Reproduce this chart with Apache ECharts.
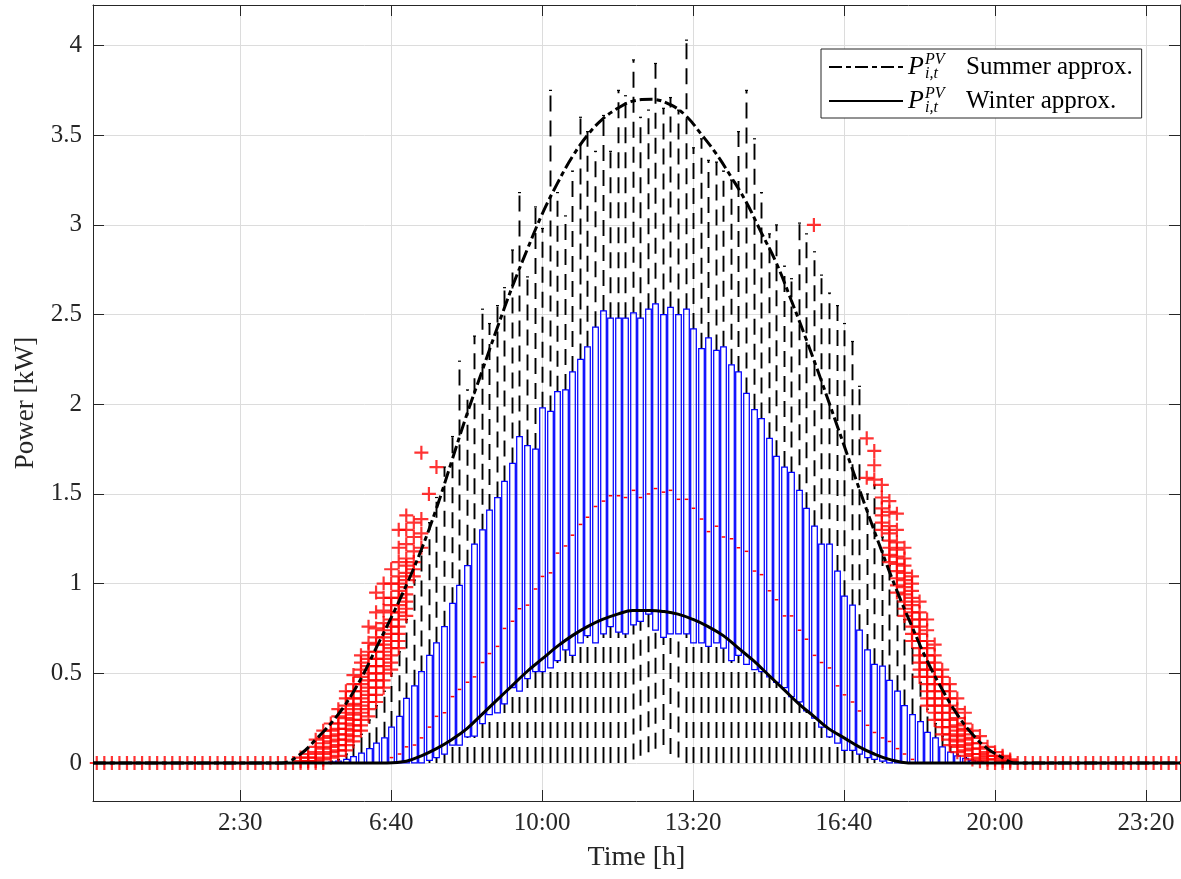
<!DOCTYPE html>
<html><head><meta charset="utf-8">
<script src="https://cdn.jsdelivr.net/npm/echarts@6/dist/echarts.min.js"></script>
<style>html,body{margin:0;padding:0;background:#fff}#c{width:1181px;height:879px}</style>
</head><body><div id="c"></div><script>
// ---- tick labels ----
const xTickPositions = [20, 40, 60, 80, 100, 120, 140];
const xTickLabels = ['2:30', '6:40', '10:00', '13:20', '16:40', '20:00', '23:20'];
const yTickValues = [0, 0.5, 1, 1.5, 2, 2.5, 3, 3.5, 4];

// ---- box statistics, one value per 10-minute slot (1..144) ----
const lowerWhisker = [
 0,0,0,0,0,0,0,0,0,0, 0,0,0,0,0,0,0,0,0,0, 0,0,0,0,0,0,0,0,0,0,
 0,0,0,0,0,0,0,0,0,0, 0,0,0,0,0,0,0,0,0,0, 0,0,0,0,0,0,0,0,0,0,
 0,0,0,0,0,0,0,0,0,0, 0,0.02,0.04,0.06,0.08,0.10,0.05,0.03,0,0,
 0,0,0,0,0,0,0,0,0,0, 0,0,0,0,0,0,0,0,0,0, 0,0,0,0,0,0,0,0,0,0,
 0,0,0,0,0,0,0,0,0,0, 0,0,0,0,0,0,0,0,0,0, 0,0,0,0];
const q1 = [
 0,0,0,0,0,0,0,0,0,0, 0,0,0,0,0,0,0,0,0,0, 0,0,0,0,0,0,0,0,0,0, 0,0,0,0,0,0,0,0,0,0,
 0,0,0,0,0.015,0.03,0.05,0.10,0.10,0.145,
 0.15,0.22,0.27,0.28,0.33,0.42,0.40,0.47,0.51,0.51,
 0.53,0.57,0.63,0.60,0.67,0.71,0.67,0.72,0.76,0.73,
 0.72,0.77,0.79,0.83,0.74,0.70,0.72,0.72,0.72,0.67,
 0.67,0.65,0.67,0.64,0.57,0.60,0.55,0.52,0.51,0.48,
 0.45,0.42,0.37,0.34,0.29,0.25,0.20,0.145,0.11,0.07,
 0.07,0.05,0.03,0.02,0.01,0,0,0,0,0,
 0,0,0,0,0,0,0,0,0,0, 0,0,0,0,0,0,0,0,0,0, 0,0,0,0,0,0,0,0,0,0, 0,0,0,0];
const median = [
 0,0,0,0,0,0,0,0,0,0, 0,0,0,0,0,0,0,0,0,0, 0,0,0,0,0,0,0,0,0,0,
 0,0,0,0,0,0,0,0,0,0.03,
 0.05,0.09,0.10,0.14,0.20,0.26,0.28,0.37,0.41,0.45,
 0.48,0.56,0.61,0.65,0.75,0.79,0.86,0.88,0.97,1.04,
 1.06,1.17,1.21,1.27,1.33,1.37,1.43,1.46,1.49,1.49,
 1.48,1.52,1.48,1.50,1.53,1.51,1.52,1.47,1.47,1.42,
 1.36,1.29,1.32,1.26,1.25,1.20,1.18,1.07,1.05,0.96,
 0.91,0.82,0.82,0.74,0.69,0.60,0.56,0.53,0.43,0.38,
 0.34,0.29,0.21,0.17,0.14,0.12,0.08,0.05,0.02,0,
 0,0,0,0,0,0,0,0,0,0, 0,0,0,0,0,0,0,0,0,0, 0,0,0,0,0,0,0,0,0,0, 0,0,0,0];
const q3 = [
 0,0,0,0,0,0,0,0,0,0, 0,0,0,0,0,0,0,0,0,0, 0,0,0,0,0,0,0,0,0,0,
 0,0.005,0.01,0.02,0.035,0.055,0.08,0.11,0.14,0.20,
 0.26,0.36,0.43,0.51,0.60,0.67,0.76,0.89,0.99,1.10,
 1.22,1.30,1.41,1.48,1.57,1.67,1.82,1.77,1.75,1.98,
 1.96,2.07,2.08,2.18,2.25,2.32,2.43,2.52,2.48,2.48,
 2.48,2.51,2.48,2.53,2.56,2.50,2.54,2.50,2.53,2.42,
 2.31,2.37,2.30,2.32,2.22,2.18,2.06,1.97,1.92,1.81,
 1.71,1.65,1.62,1.52,1.42,1.32,1.22,1.22,1.07,0.93,
 0.88,0.74,0.63,0.55,0.54,0.46,0.40,0.32,0.27,0.23,
 0.17,0.14,0.09,0.06,0.04,0.025,0.015,0.008,0,0,
 0,0,0,0,0,0,0,0,0,0, 0,0,0,0,0,0,0,0,0,0, 0,0,0,0];
const upperWhisker = [
 0,0,0,0,0,0,0,0,0,0, 0,0,0,0,0,0,0,0,0,0, 0,0,0,0,0,0,0,0,0,0,
 0,0.01,0.02,0.05,0.10,0.16,0.24,0.32,0.40,0.50,
 0.62,0.80,1.02,1.18,1.34,1.48,1.65,1.82,2.24,2.08,
 2.38,2.53,2.45,2.55,2.65,2.86,3.18,2.71,3.10,2.98,
 3.75,3.18,3.05,3.30,3.60,3.52,3.41,3.61,3.41,3.75,
 3.72,3.92,3.60,3.64,3.90,3.65,3.71,3.64,4.03,3.43,
 3.48,3.36,3.35,3.30,3.25,3.52,3.75,3.48,3.18,2.95,
 3.00,2.77,2.70,3.01,2.95,2.85,2.72,2.62,2.55,2.45,
 2.35,2.10,1.50,1.55,1.26,1.10,0.93,0.80,0.64,0.45,
 0.30,0.22,0.15,0.09,0.05,0.03,0.02,0.01,0,0,
 0,0,0,0,0,0,0,0,0,0, 0,0,0,0,0,0,0,0,0,0, 0,0,0,0];

// ---- outliers [slot, kW] ----
const outliers = [
 [1,0],[2,0],[3,0],[4,0],[5,0],[6,0],[7,0],[8,0],[9,0],[10,0],[11,0],[12,0],[13,0],[14,0],[15,0],
 [16,0],[17,0],[18,0],[19,0],[20,0],[21,0],[22,0],[23,0],[24,0],[25,0],[26,0],[27,0],[28,0],[29,0],[30,0],[31,0],
 [28,0.01],[28,0.03],[29,0.01],[29,0.03],[29,0.05],[30,0.01],[30,0.03],[30,0.06],[30,0.09],[30,0.13],
 [31,0.02],[31,0.05],[31,0.08],[31,0.11],[31,0.14],[31,0.18],
 [32,0.03],[32,0.06],[32,0.09],[32,0.12],[32,0.15],[32,0.18],[32,0.22],
 [33,0.04],[33,0.07],[33,0.10],[33,0.13],[33,0.16],[33,0.19],[33,0.22],[33,0.26],[33,0.30],
 [34,0.07],[34,0.10],[34,0.13],[34,0.16],[34,0.19],[34,0.22],[34,0.25],[34,0.28],[34,0.32],[34,0.36],[34,0.40],
 [35,0.12],[35,0.15],[35,0.18],[35,0.21],[35,0.24],[35,0.27],[35,0.30],[35,0.33],[35,0.36],[35,0.40],[35,0.44],[35,0.49],
 [36,0.18],[36,0.21],[36,0.24],[36,0.28],[36,0.32],[36,0.36],[36,0.40],[36,0.44],[36,0.48],[36,0.52],[36,0.56],[36,0.60],
 [37,0.26],[37,0.30],[37,0.34],[37,0.38],[37,0.42],[37,0.46],[37,0.50],[37,0.54],[37,0.58],[37,0.62],[37,0.67],[37,0.76],
 [38,0.34],[38,0.38],[38,0.42],[38,0.46],[38,0.50],[38,0.54],[38,0.58],[38,0.62],[38,0.66],[38,0.70],[38,0.75],[38,0.84],[38,0.95],
 [39,0.42],[39,0.46],[39,0.50],[39,0.54],[39,0.58],[39,0.62],[39,0.66],[39,0.70],[39,0.74],[39,0.78],[39,0.85],[39,0.92],[39,1.00],
 [40,0.52],[40,0.56],[40,0.60],[40,0.64],[40,0.68],[40,0.72],[40,0.76],[40,0.80],[40,0.84],[40,0.88],[40,0.92],[40,1.00],[40,1.08],
 [41,0.64],[41,0.68],[41,0.72],[41,0.76],[41,0.80],[41,0.84],[41,0.88],[41,0.92],[41,0.96],[41,1.00],[41,1.04],[41,1.12],[41,1.20],[41,1.30],
 [42,0.82],[42,0.86],[42,0.90],[42,0.94],[42,0.98],[42,1.02],[42,1.06],[42,1.10],[42,1.14],[42,1.22],[42,1.30],[42,1.38],
 [43,1.04],[43,1.08],[43,1.12],[43,1.18],[43,1.26],[43,1.34],
 [44,1.20],[44,1.28],[44,1.36],[44,1.73],[45,1.50],[46,1.65],
 [96,3.00],
 [103,1.59],[103,1.81],[104,1.58],[104,1.66],[104,1.74],
 [105,1.30],[105,1.34],[105,1.38],[105,1.42],[105,1.48],[105,1.55],
 [106,1.12],[106,1.16],[106,1.20],[106,1.24],[106,1.28],[106,1.32],[106,1.40],[106,1.46],
 [107,0.95],[107,0.99],[107,1.03],[107,1.07],[107,1.11],[107,1.15],[107,1.19],[107,1.23],[107,1.30],[107,1.39],
 [108,0.82],[108,0.86],[108,0.90],[108,0.94],[108,0.98],[108,1.02],[108,1.06],[108,1.10],[108,1.14],[108,1.20],
 [109,0.68],[109,0.72],[109,0.76],[109,0.80],[109,0.84],[109,0.88],[109,0.92],[109,0.96],[109,1.00],[109,1.04],
 [110,0.48],[110,0.52],[110,0.56],[110,0.60],[110,0.64],[110,0.68],[110,0.72],[110,0.76],[110,0.80],[110,0.84],[110,0.90],
 [111,0.32],[111,0.36],[111,0.40],[111,0.44],[111,0.48],[111,0.52],[111,0.56],[111,0.60],[111,0.64],[111,0.68],[111,0.74],[111,0.80],
 [112,0.24],[112,0.28],[112,0.32],[112,0.36],[112,0.40],[112,0.44],[112,0.48],[112,0.52],[112,0.56],[112,0.60],[112,0.66],
 [113,0.16],[113,0.20],[113,0.24],[113,0.28],[113,0.32],[113,0.36],[113,0.40],[113,0.44],[113,0.48],[113,0.52],
 [114,0.10],[114,0.13],[114,0.16],[114,0.20],[114,0.24],[114,0.28],[114,0.32],[114,0.36],[114,0.40],[114,0.44],
 [115,0.06],[115,0.09],[115,0.12],[115,0.15],[115,0.18],[115,0.21],[115,0.25],[115,0.30],[115,0.36],
 [116,0.04],[116,0.07],[116,0.10],[116,0.13],[116,0.16],[116,0.19],[116,0.22],[116,0.28],
 [117,0.02],[117,0.05],[117,0.08],[117,0.11],[117,0.14],[117,0.18],
 [118,0.01],[118,0.03],[118,0.05],[118,0.08],[118,0.11],[118,0.15],
 [119,0.02],[119,0.04],[119,0.06],[119,0.09],[120,0.02],[120,0.04],[120,0.06],
 [121,0.01],[121,0.03],[121,0.04],[122,0.01],[122,0.02],
 [119,0],[120,0],[121,0],[122,0],[123,0],[124,0],[125,0],[126,0],[127,0],[128,0],[129,0],[130,0],
 [131,0],[132,0],[133,0],[134,0],[135,0],[136,0],[137,0],[138,0],[139,0],[140,0],[141,0],[142,0],[143,0],[144,0]
];

// ---- approximation curves [slot, kW] ----
const summerCurve = [
 [0.5,0],[25.5,0],[28,0.05],[30,0.13],[32,0.22],[34,0.33],[36,0.47],[38,0.64],[40,0.81],[42,0.99],
 [44,1.19],[46,1.42],[48,1.68],[50,1.94],[52,2.18],[54,2.42],[56,2.65],[58,2.86],[60,3.06],[62,3.23],
 [64,3.38],[66,3.50],[68,3.59],[70,3.65],[72,3.69],[74.5,3.70],[77,3.67],[79,3.61],[81,3.51],[83,3.40],
 [85,3.27],[87,3.13],[89,2.96],[91,2.79],[93,2.58],[95,2.36],[97,2.13],[99,1.89],[101,1.65],[103,1.41],
 [105,1.18],[107,0.96],[109,0.76],[111,0.57],[113,0.41],[115,0.27],[117,0.16],[119,0.08],[121,0.03],
 [122.5,0],[144.5,0]];
const winterCurve = [
 [0.5,0],[39.5,0],[42,0.01],[44,0.04],[46,0.08],[48,0.13],[50,0.19],[52,0.27],[54,0.35],[56,0.43],
 [58,0.51],[60,0.58],[62,0.65],[64,0.71],[66,0.76],[68,0.80],[70,0.83],[72,0.85],[74.3,0.85],[76,0.845],
 [78,0.83],[80,0.80],[82,0.76],[84,0.71],[86,0.64],[88,0.57],[90,0.49],[92,0.41],[94,0.33],[96,0.26],
 [98,0.19],[100,0.14],[102,0.09],[104,0.05],[106,0.02],[108.5,0],[144.5,0]];

const FONT = "'Liberation Serif', 'DejaVu Serif', serif";
const AX = '#262626';
const boxData = q1.map((v, k) => [k + 1, lowerWhisker[k], q1[k], median[k], q3[k], upperWhisker[k]]);
const plusPath = 'path://M5.9,0H8.1V5.9H14V8.1H8.1V14H5.9V8.1H0V5.9H5.9Z';

const chart = echarts.init(document.getElementById('c'), null, {renderer: 'canvas'});
chart.setOption({
  animation: false,
  backgroundColor: '#fff',
  grid: {left: 93, right: 1, top: 5, bottom: 78, containLabel: false},
  legend: {
    orient: 'vertical', left: 821, top: 49,
    itemWidth: 74, itemHeight: 16, itemGap: 4,
    padding: [3, 9, 2, 7],
    borderColor: AX, borderWidth: 1, backgroundColor: '#fff',
    itemStyle: {opacity: 0},
    data: ['Summer approx.', 'Winter approx.'],
    formatter: n => '{p|P}{sup|PV}{sub|i,t}{t|' + n + '}',
    textStyle: {
      fontFamily: FONT, fontSize: 25, color: '#000',
      rich: {
        p: {fontFamily: FONT, fontStyle: 'italic', fontSize: 26, lineHeight: 30, width: 17},
        sup: {fontFamily: FONT, fontStyle: 'italic', fontSize: 16, lineHeight: 15, verticalAlign: 'top', width: 0},
        sub: {fontFamily: FONT, fontStyle: 'italic', fontSize: 16, lineHeight: 15, verticalAlign: 'bottom', width: 41},
        t: {fontFamily: FONT, fontSize: 25, lineHeight: 30}
      }
    }
  },
  xAxis: [{
    type: 'value', min: 0.5, max: 144.5, position: 'bottom',
    name: 'Time [h]', nameLocation: 'middle', nameGap: 43,
    nameTextStyle: {fontFamily: FONT, fontSize: 28, color: AX},
    axisLine: {show: true, onZero: false, lineStyle: {color: AX, width: 1}},
    axisTick: {show: true, inside: true, length: 11, customValues: xTickPositions, lineStyle: {color: AX, width: 1}},
    axisLabel: {show: true, margin: 10, customValues: xTickPositions, fontFamily: FONT, fontSize: 25, color: AX,
      formatter: v => xTickLabels[xTickPositions.indexOf(Math.round(v))]},
    splitLine: {show: true, lineStyle: {color: '#dcdcdc', width: 1}}
  }, {
    type: 'value', min: 0.5, max: 144.5, position: 'top',
    axisLine: {show: true, onZero: false, lineStyle: {color: AX, width: 1}},
    axisTick: {show: true, inside: true, length: 11, customValues: xTickPositions, lineStyle: {color: AX, width: 1}},
    axisLabel: {show: false}, splitLine: {show: false}
  }],
  yAxis: [{
    type: 'value', min: -0.212, max: 4.226, position: 'left',
    name: 'Power [kW]', nameLocation: 'middle', nameGap: 53,
    nameTextStyle: {fontFamily: FONT, fontSize: 27, color: AX},
    axisLine: {show: true, onZero: false, lineStyle: {color: AX, width: 1}},
    axisTick: {show: true, inside: true, length: 11, customValues: yTickValues, lineStyle: {color: AX, width: 1}},
    axisLabel: {show: true, margin: 11, customValues: yTickValues, fontFamily: FONT, fontSize: 25, color: AX,
      formatter: v => String(v)},
    splitLine: {show: true, lineStyle: {color: '#dcdcdc', width: 1}}
  }, {
    type: 'value', min: -0.212, max: 4.226, position: 'right',
    axisLine: {show: true, onZero: false, lineStyle: {color: AX, width: 1}},
    axisTick: {show: true, inside: true, length: 11, customValues: yTickValues, lineStyle: {color: AX, width: 1}},
    axisLabel: {show: false}, splitLine: {show: false}
  }],
  series: [{
    type: 'custom', name: 'boxes', z: 2, silent: true,
    data: boxData,
    encode: {x: 0, y: [1, 2, 3, 4, 5]},
    renderItem: function (params, api) {
      const i = api.value(0);
      const pLo = api.coord([i, api.value(1)]);
      const pQ1 = api.coord([i, api.value(2)]);
      const pMd = api.coord([i, api.value(3)]);
      const pQ3 = api.coord([i, api.value(4)]);
      const pUp = api.coord([i, api.value(5)]);
      const hw = api.size([1, 0])[0] * 0.37;
      const x = Math.round(pQ1[0]) + 0.5;
      const dash = {stroke: '#000', lineWidth: 1.9, lineDash: [16, 9]};
      return {type: 'group', children: [
        {type: 'line', shape: {x1: x, y1: pQ3[1], x2: x, y2: pUp[1]}, style: dash},
        {type: 'line', shape: {x1: x, y1: pLo[1], x2: x, y2: pQ1[1]}, style: dash},
        {type: 'line', shape: {x1: x - 1.5, y1: pUp[1], x2: x + 1.5, y2: pUp[1]}, style: {stroke: '#000', lineWidth: 1.2}},
        {type: 'rect', shape: {x: x - hw, y: pQ3[1], width: 2 * hw, height: pQ1[1] - pQ3[1]},
          style: {fill: 'none', stroke: '#0000ff', lineWidth: 1.25}},
        {type: 'line', shape: {x1: x - hw + 1, y1: pMd[1], x2: x + hw - 1, y2: pMd[1]}, style: {stroke: '#ff0000', lineWidth: 1.5}}
      ]};
    }
  }, {
    type: 'scatter', name: 'outliers', z: 3, silent: true,
    data: outliers, symbol: plusPath, symbolSize: 14,
    itemStyle: {color: '#ff0000'}
  }, {
    type: 'line', name: 'Summer approx.', z: 5, data: summerCurve, smooth: 0.4,
    symbol: 'none', lineStyle: {color: '#000', width: 3, type: [13, 4, 5, 4]},
    itemStyle: {color: '#000'}
  }, {
    type: 'line', name: 'Winter approx.', z: 5, data: winterCurve, smooth: 0.4,
    symbol: 'none', lineStyle: {color: '#000', width: 3, type: 'solid'},
    itemStyle: {color: '#000'}
  }]
});
</script></body></html>
